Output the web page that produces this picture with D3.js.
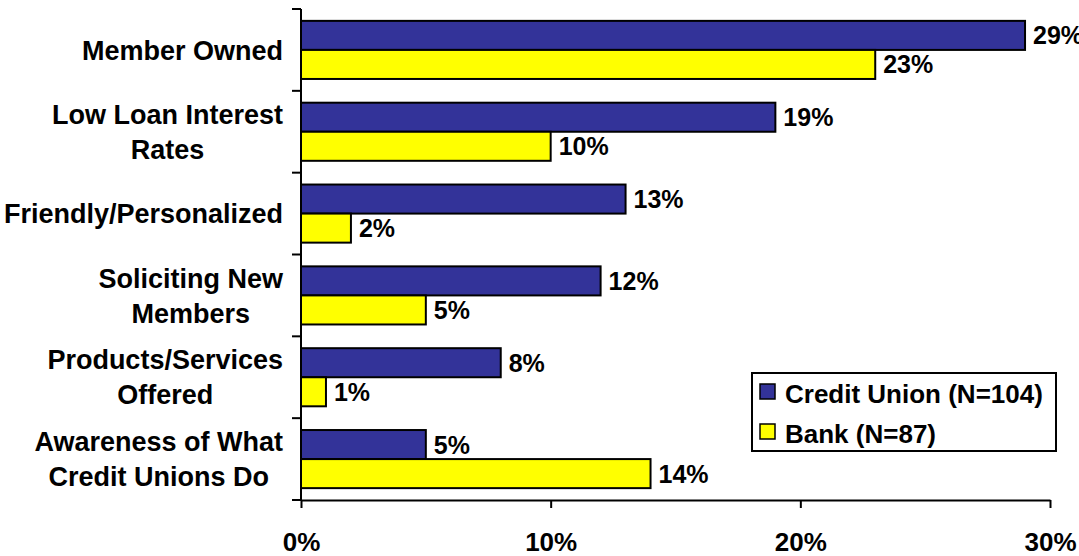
<!DOCTYPE html>
<html>
<head>
<meta charset="utf-8">
<script src="https://cdn.jsdelivr.net/npm/d3@7"></script>
<style>
  body { margin: 0; background: #fff; }
  svg text { font-family: "Liberation Sans", Arial, sans-serif; font-weight: bold; fill: #000; }
</style>
</head>
<body>
<svg id="chart" width="1079" height="556"></svg>
<script>
// categories, top to bottom (each entry = lines of the label)
var categories = [
  ["Member Owned"],
  ["Low Loan Interest", "Rates"],
  ["Friendly/Personalized"],
  ["Soliciting New", "Members"],
  ["Products/Services", "Offered"],
  ["Awareness of What", "Credit Unions Do"]
];
var seriesNames = ["Credit Union (N=104)", "Bank (N=87)"];
var seriesColors = ["#333399", "#ffff00"];
var creditUnion = [29, 19, 13, 12, 8, 5];
var bank = [23, 10, 2, 5, 1, 14];
var xTicks = [0, 10, 20, 30];

var svg = d3.select("#chart");

// plot area
var plotLeft = 301, plotRight = 1050, plotTop = 9, plotBottom = 500;

var x = d3.scaleLinear().domain([0, 30]).range([plotLeft, plotRight]);
var y = d3.scaleBand().domain(d3.range(categories.length)).range([plotTop, plotBottom])
    .paddingInner(0.29).paddingOuter(0.145);
var barH = y.bandwidth() / 2;

var data = categories.map(function (c, i) {
  return {i: i, lines: c, values: [creditUnion[i], bank[i]]};
});

// bars
var groups = svg.selectAll(".cat")
  .data(data).enter().append("g")
    .attr("class", "cat")
    .attr("transform", function (d) { return "translate(0," + y(d.i) + ")"; });

groups.selectAll("rect")
  .data(function (d) { return d.values; })
  .enter().append("rect")
    .attr("x", x(0))
    .attr("y", function (d, j) { return j * barH; })
    .attr("width", function (d) { return x(d) - x(0); })
    .attr("height", barH)
    .attr("fill", function (d, j) { return seriesColors[j]; })
    .attr("stroke", "#000")
    .attr("stroke-width", 2);

// value labels
groups.selectAll("text.val")
  .data(function (d) { return d.values; })
  .enter().append("text")
    .attr("class", "val")
    .attr("x", function (d) { return x(d) + 8; })
    .attr("y", function (d, j) { return j * barH + barH / 2; })
    .attr("dy", "0.36em")
    .style("font-size", "25px")
    .text(function (d) { return d + "%"; });

// category labels: block right aligned, lines centered among themselves
var labelRight = 283, lineGap = 35;
data.forEach(function (d) {
  var cy = y(d.i) + y.bandwidth() / 2;
  var g = svg.append("g");
  var texts = g.selectAll("text").data(d.lines).enter().append("text")
    .style("font-size", "27px")
    .attr("text-anchor", "middle")
    .attr("y", function (t, k) { return cy + (k - (d.lines.length - 1) / 2) * lineGap; })
    .attr("dy", "0.36em")
    .text(function (t) { return t; });
  var maxW = d3.max(texts.nodes(), function (n) { return n.getComputedTextLength(); });
  texts.attr("x", labelRight - maxW / 2);
});

// y axis line with ticks at band boundaries
svg.append("line")
  .attr("x1", x(0)).attr("x2", x(0))
  .attr("y1", plotTop).attr("y2", plotBottom)
  .attr("stroke", "#000").attr("stroke-width", 2);
var bounds = d3.range(categories.length + 1).map(function (k) { return plotTop + k * y.step(); });
svg.selectAll(".ytick").data(bounds).enter().append("line")
  .attr("x1", x(0) - 9).attr("x2", x(0))
  .attr("y1", function (d) { return d; }).attr("y2", function (d) { return d; })
  .attr("stroke", "#000").attr("stroke-width", 2);

// x axis
var xAxis = d3.axisBottom(x).tickValues(xTicks).tickSize(8).tickSizeOuter(0)
  .tickFormat(function (d) { return d + "%"; });
var gx = svg.append("g")
  .attr("transform", "translate(0," + plotBottom + ")")
  .call(xAxis);
gx.select(".domain").attr("stroke", "#000").attr("stroke-width", 2);
gx.selectAll(".tick line").attr("stroke", "#000").attr("stroke-width", 2);
gx.selectAll(".tick text")
  .attr("y", 51).attr("dy", 0)
  .style("font-size", "26px")
  .style("font-family", "'Liberation Sans', Arial, sans-serif")
  .style("font-weight", "bold")
  .attr("fill", "#000");

// legend
var lg = svg.append("g").attr("transform", "translate(752,373)");
lg.append("rect").attr("width", 304).attr("height", 78)
  .attr("fill", "#fff").attr("stroke", "#000").attr("stroke-width", 2);
var items = lg.selectAll(".item").data(seriesNames).enter().append("g")
  .attr("transform", function (d, j) { return "translate(8," + (11 + j * 40) + ")"; });
items.append("rect").attr("width", 15).attr("height", 15)
  .attr("fill", function (d, j) { return seriesColors[j]; })
  .attr("stroke", "#000").attr("stroke-width", 1.5);
items.append("text").attr("x", 25).attr("y", 19)
  .style("font-size", "26px")
  .text(function (d) { return d; });
</script>
</body>
</html>
